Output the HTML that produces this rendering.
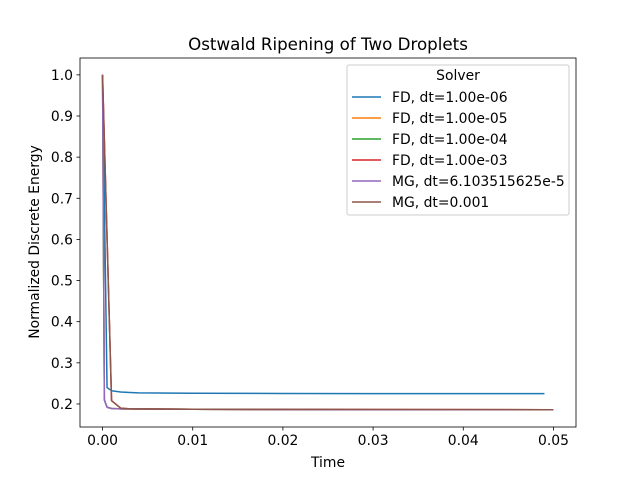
<!DOCTYPE html>
<html><head><meta charset="utf-8"><style>
body{margin:0;background:#fff;font-family:"Liberation Sans","DejaVu Sans",sans-serif}
svg text{font-family:"DejaVu Sans","Liberation Sans",sans-serif}
</style></head><body>
<svg id="chart" width="640" height="480" xmlns="http://www.w3.org/2000/svg">
<rect width="640" height="480" fill="#fff"/>
<text x="328" y="50" font-size="16.7" text-anchor="middle" fill="#000">Ostwald Ripening of Two Droplets</text>
<g id="plot"></g>
<g id="axes"></g>
<text x="328" y="467" font-size="13.9" text-anchor="middle">Time</text>
<text transform="translate(39,242) rotate(-90)" font-size="13.9" text-anchor="middle">Normalized Discrete Energy</text>
<g id="legend"></g>
</svg>
<script>
const xTicks=[0,0.01,0.02,0.03,0.04,0.05];
const xTickLabels=["0.00","0.01","0.02","0.03","0.04","0.05"];
const yTicks=[0.2,0.3,0.4,0.5,0.6,0.7,0.8,0.9,1.0];
const yTickLabels=["0.2","0.3","0.4","0.5","0.6","0.7","0.8","0.9","1.0"];
const seriesNames=["FD, dt=1.00e-06","FD, dt=1.00e-05","FD, dt=1.00e-04","FD, dt=1.00e-03","MG, dt=6.103515625e-5","MG, dt=0.001"];
const seriesColors=["#1f77b4","#ff7f0e","#2ca02c","#d62728","#9467bd","#8c564b"];
const fd1T=[0,0.0005,0.001,0.002,0.004,0.01,0.02,0.03,0.049];
const fd1E=[1.0,0.24,0.232,0.229,0.227,0.226,0.2255,0.225,0.225];
const fd2T=[0,0.0002,0.0005,0.001,0.002,0.01,0.03,0.049];
const fd2E=[1.0,0.21,0.192,0.189,0.188,0.187,0.186,0.186];
const fd3T=[0,0.0002,0.0005,0.001,0.002,0.01,0.03,0.049];
const fd3E=[1.0,0.21,0.192,0.189,0.188,0.187,0.186,0.186];
const fd4T=[0,0.001,0.002,0.003,0.01,0.03,0.049];
const fd4E=[1.0,0.208,0.19,0.188,0.187,0.1865,0.186];
const mg1T=[0,0.0002,0.0005,0.001,0.002,0.01,0.03,0.05];
const mg1E=[1.0,0.21,0.192,0.189,0.188,0.187,0.186,0.186];
const mg2T=[0,0.001,0.002,0.003,0.01,0.03,0.05];
const mg2E=[1.0,0.208,0.19,0.188,0.187,0.1865,0.186];
const seriesT=[fd1T,fd2T,fd3T,fd4T,mg1T,mg2T];
const seriesE=[fd1E,fd2E,fd3E,fd4E,mg1E,mg2E];
const L=80,R=576,T=58,B=427;
const x0=-0.0025,x1=0.0525,y0=0.144,y1=1.041;
const sx=v=>L+(v-x0)/(x1-x0)*(R-L);
const sy=v=>B-(v-y0)/(y1-y0)*(B-T);
const NS="http://www.w3.org/2000/svg";
function mk(tag,attrs,parent){const e=document.createElementNS(NS,tag);for(const k in attrs)e.setAttribute(k,attrs[k]);parent.appendChild(e);return e;}
const plot=document.getElementById('plot'),axes=document.getElementById('axes'),leg=document.getElementById('legend');
const order=[1,2,3,0,4,5];
order.forEach(i=>{
  const pts=seriesT[i].map((t,j)=>sx(t).toFixed(2)+","+sy(seriesE[i][j]).toFixed(2)).join(" ");
  const p=mk('polyline',{points:pts,fill:'none',stroke:seriesColors[i],'stroke-width':1.5,'stroke-linejoin':'round'},plot);
  
  
});
const frame=mk('rect',{x:L,y:T,width:R-L,height:B-T,fill:'none',stroke:'#000','stroke-width':0.8},axes);


xTicks.forEach((v,i)=>{
  const x=sx(v);
  mk('line',{x1:x,x2:x,y1:B,y2:B+3.5,stroke:'#000','stroke-width':0.8},axes);
  const t=mk('text',{x:x,y:B+18,'font-size':13.9,'text-anchor':'middle'},axes);t.textContent=xTickLabels[i];
  
  
});
yTicks.forEach((v,i)=>{
  const y=sy(v);
  mk('line',{x1:L-3.5,x2:L,y1:y,y2:y,stroke:'#000','stroke-width':0.8},axes);
  const t=mk('text',{x:L-7,y:y+5,'font-size':13.9,'text-anchor':'end'},axes);t.textContent=yTickLabels[i];
  
  
});
mk('rect',{x:347,y:65,width:222,height:150,rx:2,fill:'#fff','fill-opacity':0.8,stroke:'#ccc','stroke-width':1},leg);
const lt=mk('text',{x:458,y:80,'font-size':13.9,'text-anchor':'middle'},leg);lt.textContent="Solver";


const rowY=[97,118,139,160,181,202];
seriesNames.forEach((n,i)=>{
  const g=mk('g',{},leg);
  
  
  mk('line',{x1:352,x2:381,y1:rowY[i],y2:rowY[i],stroke:seriesColors[i],'stroke-width':1.5},g);
  const t=mk('text',{x:392,y:rowY[i]+5,'font-size':13.9},g);t.textContent=n;
});
</script>
</body></html>
